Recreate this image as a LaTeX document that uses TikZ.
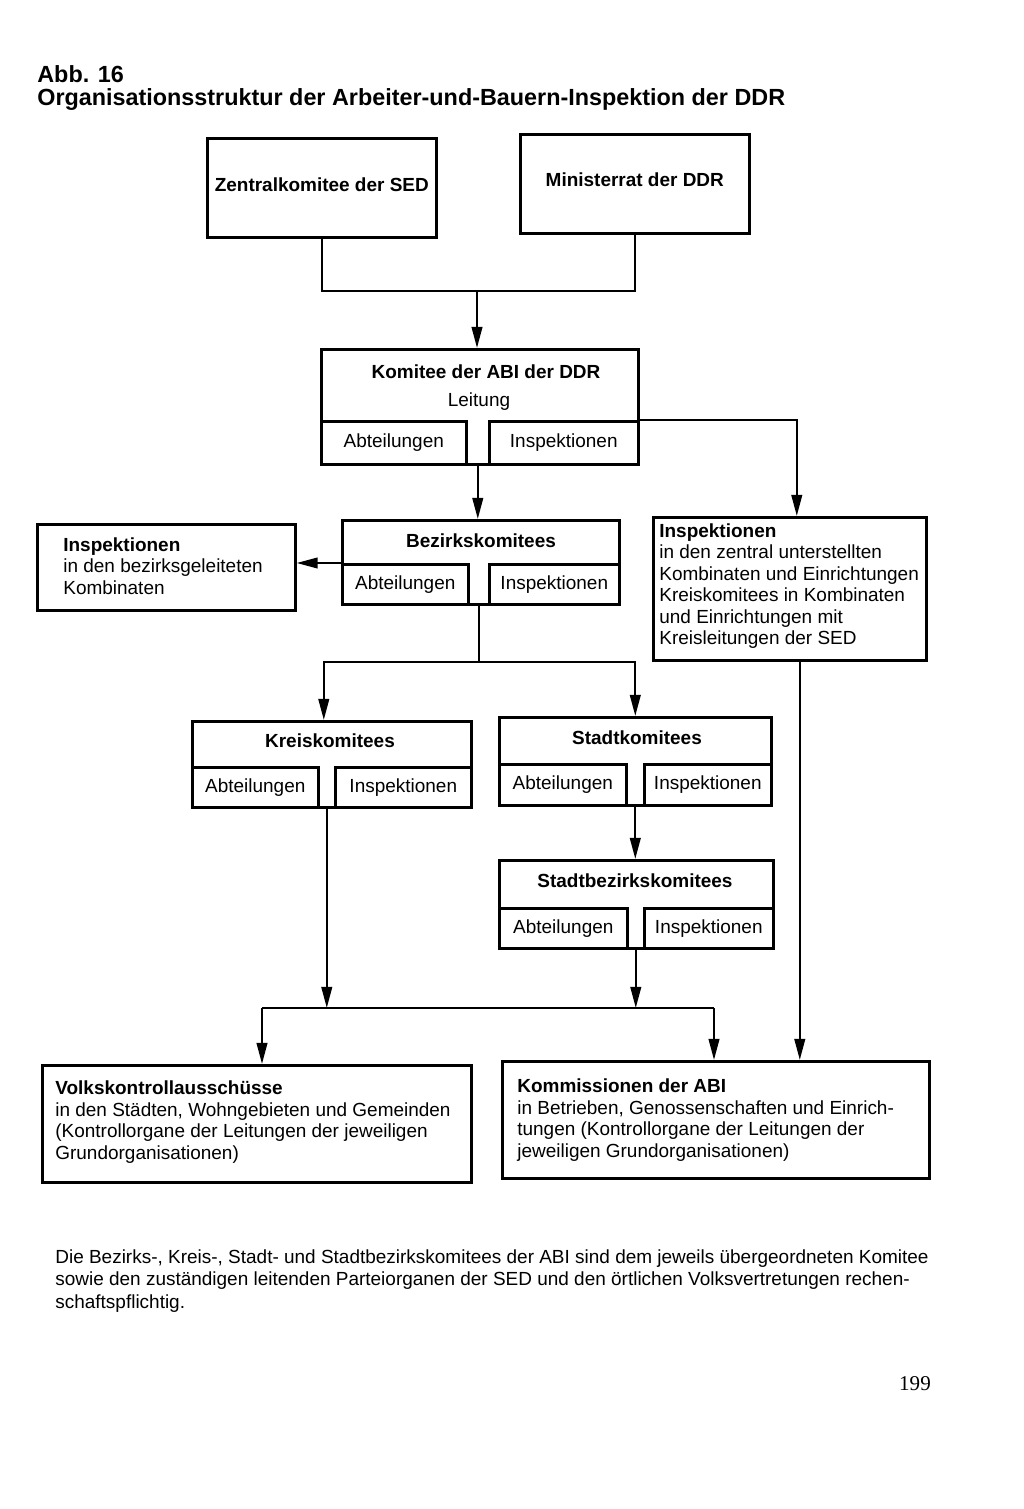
\documentclass[tikz,border=0pt]{standalone}
\usepackage{fontspec}
\setmainfont{Liberation Sans}
\newfontfamily\pagefont{Liberation Serif}
\usepackage{tikz}
\usetikzlibrary{arrows.meta, positioning, calc}

\begin{document}
\begin{tikzpicture}[
    x=0.02cm, y=-0.02cm,
    frame/.style={rectangle, draw=black, line width=1.5pt, inner sep=0pt, anchor=north west},
    sub/.style={rectangle, draw=black, line width=1.5pt, inner sep=0pt, minimum height=0.80cm, font=\fontsize{10.8}{12.5}\selectfont},
    title/.style={font=\fontsize{10.8}{12.5}\selectfont\bfseries, inner sep=0pt},
    plain/.style={font=\fontsize{10.8}{12.5}\selectfont, inner sep=0pt},
    desc/.style={font=\fontsize{10.8}{12.2}\selectfont, align=left, anchor=west, inner sep=0pt},
    line/.style={line width=1.3pt},
    arrow/.style={-{Triangle[length=12pt, width=6pt]}, line width=1.3pt}
]
\useasboundingbox (0,0) rectangle (1024,1509);

% Heading
\node[font=\fontsize{13.3}{16}\selectfont\bfseries, anchor=base west, inner sep=0pt] (abb) at (37,82) {Abb. 16};
\node[font=\fontsize{13.3}{16}\selectfont\bfseries, anchor=base west, inner sep=0pt] (head) at (37,105) {Organisationsstruktur der Arbeiter-und-Bauern-Inspektion der DDR};

% Top level
\node[frame, minimum width=4.58cm, minimum height=1.98cm] (zk) at (206,137) {};
\node[title] at ($(zk.center)+(0,-3)$) {Zentralkomitee der SED};
\node[frame, minimum width=4.58cm, minimum height=1.98cm] (mr) at (519,133) {};
\node[title] at ($(mr.center)+(0,-4)$) {Ministerrat der DDR};

% Komitee der ABI
\node[frame, minimum width=6.34cm, minimum height=2.30cm] (abi) at (320,348) {};
\node[title] at (486,372) {Komitee der ABI der DDR};
\node[plain] at (479,402) {Leitung};
\node[sub, minimum width=2.90cm, minimum height=0.86cm, anchor=south west] (abiA) at (abi.south west) {Abteilungen};
\node[sub, minimum width=2.98cm, minimum height=0.86cm, anchor=south east] (abiI) at (abi.south east) {Inspektionen};

% Bezirkskomitees
\node[frame, minimum width=5.54cm, minimum height=1.68cm] (bez) at (341,519) {};
\node[title] at (481,541) {Bezirkskomitees};
\node[sub, minimum width=2.52cm, anchor=south west] (bezA) at (bez.south west) {Abteilungen};
\node[sub, minimum width=2.60cm, anchor=south east] (bezI) at (bez.south east) {Inspektionen};

% Inspektionen (left and right)
\node[frame, minimum width=5.16cm, minimum height=1.72cm] (linsp) at (36,523) {};
\node[desc] at (63,566) {\textbf{Inspektionen}\\in den bezirksgeleiteten\\Kombinaten};
\node[frame, minimum width=5.46cm, minimum height=2.86cm] (rinsp) at (652,516) {};
\node[desc] at (659,586) {\textbf{Inspektionen}\\in den zentral unterstellten\\Kombinaten und Einrichtungen\\Kreiskomitees in Kombinaten\\und Einrichtungen mit\\Kreisleitungen der SED};

% Kreiskomitees
\node[frame, minimum width=5.58cm, minimum height=1.72cm] (kreis) at (191,720) {};
\node[title] at (330,741) {Kreiskomitees};
\node[sub, minimum width=2.52cm, anchor=south west] (kreisA) at (kreis.south west) {Abteilungen};
\node[sub, minimum width=2.72cm, anchor=south east] (kreisI) at (kreis.south east) {Inspektionen};

% Stadtkomitees
\node[frame, minimum width=5.44cm, minimum height=1.76cm] (stadt) at (498,716) {};
\node[title] at (637,738) {Stadtkomitees};
\node[sub, minimum width=2.54cm, minimum height=0.82cm, anchor=south west] (stadtA) at (stadt.south west) {Abteilungen};
\node[sub, minimum width=2.54cm, minimum height=0.82cm, anchor=south east] (stadtI) at (stadt.south east) {Inspektionen};

% Stadtbezirkskomitees
\node[frame, minimum width=5.48cm, minimum height=1.76cm] (sbez) at (498,859) {};
\node[title] at (635,881) {Stadtbezirkskomitees};
\node[sub, minimum width=2.56cm, anchor=south west] (sbezA) at (sbez.south west) {Abteilungen};
\node[sub, minimum width=2.58cm, anchor=south east] (sbezI) at (sbez.south east) {Inspektionen};

% Bottom level
\node[frame, minimum width=8.58cm, minimum height=2.34cm] (volks) at (41,1064) {};
\node[desc] at (55,1122) {\textbf{Volkskontrollausschüsse}\\in den Städten, Wohngebieten und Gemeinden\\(Kontrollorgane der Leitungen der jeweiligen\\Grundorganisationen)};
\node[frame, minimum width=8.54cm, minimum height=2.34cm] (komm) at (501,1060) {};
\node[desc] at (517,1120) {\textbf{Kommissionen der ABI}\\in Betrieben, Genossenschaften und Einrich-\\tungen (Kontrollorgane der Leitungen der\\jeweiligen Grundorganisationen)};

% Footnote and page number
\node[font=\fontsize{10.8}{13}\selectfont, align=left, anchor=north west, inner sep=0pt] (note) at (55,1249) {Die Bezirks-, Kreis-, Stadt- und Stadtbezirkskomitees der ABI sind dem jeweils übergeordneten Komitee\\sowie den zuständigen leitenden Parteiorganen der SED und den örtlichen Volksvertretungen rechen-\\schaftspflichtig.};
\node[font=\pagefont\fontsize{12}{14}\selectfont, inner sep=0pt] (page) at (915,1384) {199};

% Gap points
\coordinate (abigap) at ($(abiA.south east)!0.5!(abiI.south west)$);
\coordinate (bezgap) at ($(bezA.south east)!0.5!(bezI.south west)$);
\coordinate (kreisgap) at ($(kreisA.south east)!0.5!(kreisI.south west)$);
\coordinate (stadtgap) at ($(stadtA.south east)!0.5!(stadtI.south west)$);
\coordinate (sbezgap) at ($(sbezA.south east)!0.5!(sbezI.south west)$);
\coordinate (top) at (477,291);
\coordinate (forky) at (0,662);
\coordinate (fork) at (bezgap |- forky);
\coordinate (busL) at (262,1008);
\coordinate (busR) at (714,1008);
\coordinate (rdrop) at ($(rinsp.south)+(10,0)$);

% Arrows
\draw[line] (zk.south) |- (top) -| (mr.south);
\draw[arrow] (top) -- (top |- abi.north);
\draw[arrow] (abigap) -- (abigap |- bez.north);
\draw[arrow] (abiI.north east) -| ($(rinsp.north)+(7,0)$);
\draw[arrow] (bezA.north west) -- (linsp.east |- bezA.north west);
\draw[line] (bezgap) -- (fork);
\draw[arrow] (fork) -| ($(kreis.north)+(-8,0)$);
\draw[arrow] (fork) -| (stadt.north);
\draw[arrow] (stadtgap) -- (stadtgap |- sbez.north);
\draw[arrow] (kreisgap) -- (kreisgap |- busL);
\draw[arrow] (sbezgap) -- (sbezgap |- busL);
\draw[line] (busL) -- (busR);
\draw[arrow] (busL) -- (busL |- volks.north);
\draw[arrow] (busR) -- (busR |- komm.north);
\draw[arrow] (rdrop) -- (rdrop |- komm.north);
\end{tikzpicture}
\end{document}
